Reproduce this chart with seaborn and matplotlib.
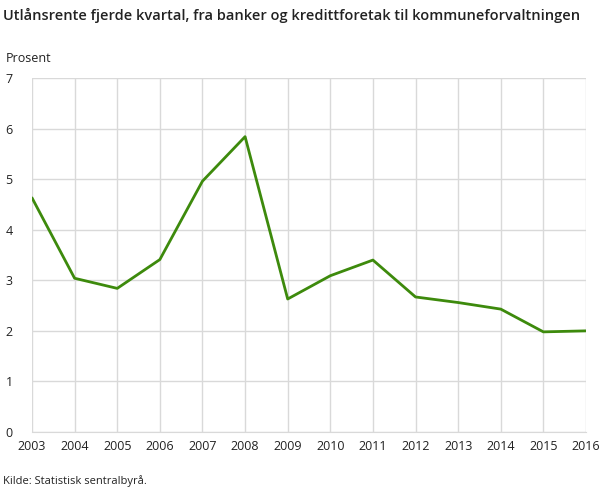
import matplotlib
matplotlib.use("Agg")
import matplotlib.pyplot as plt
import seaborn as sns
import pandas as pd

years = [2003, 2004, 2005, 2006, 2007, 2008, 2009, 2010, 2011, 2012, 2013, 2014, 2015, 2016]
rente = [4.63, 3.04, 2.84, 3.41, 4.96, 5.84, 2.63, 3.09, 3.40, 2.67, 2.56, 2.43, 1.98, 2.00]

df = pd.DataFrame({"år": years, "prosent": rente})

sns.set_style("white")
plt.rcParams["font.family"] = ["Open Sans", "DejaVu Sans"]

fig = plt.figure(figsize=(6.09, 4.90), dpi=100)
ax = fig.add_axes([32 / 609, 1 - 432 / 490, (586 - 32) / 609, (432 - 78) / 490])

sns.lineplot(data=df, x="år", y="prosent", color="#3d8a0c", linewidth=2, ax=ax)

ax.set_xlim(2003, 2016)
ax.set_ylim(0, 7)
ax.set_xticks(years)
ax.set_xticklabels([str(y) for y in years])
ax.set_yticks(range(0, 8))
ax.grid(True, color="#d9d9d9", linewidth=1)
for s in ["top", "right", "left"]:
    ax.spines[s].set_visible(False)
ax.spines["bottom"].set_color("#d9d9d9")
ax.tick_params(axis="both", length=0, labelsize=9, colors="#222222")
ax.tick_params(axis="x", pad=6)
ax.tick_params(axis="y", pad=14)
ax.set_xlabel("")
ax.set_ylabel("")

fig.text(3 / 609, 1 - 15 / 490, "Utlånsrente fjerde kvartal, fra banker og kredittforetak til kommuneforvaltningen",
         fontsize=10.5, fontweight="semibold", color="#222222", va="center", ha="left")
fig.text(6 / 609, 1 - 58 / 490, "Prosent", fontsize=9, color="#222222", va="center", ha="left")
fig.text(3 / 609, 1 - 481 / 490, "Kilde: Statistisk sentralbyrå.", fontsize=8, color="#222222", va="center", ha="left")

fig.savefig("out.png", dpi=100)
